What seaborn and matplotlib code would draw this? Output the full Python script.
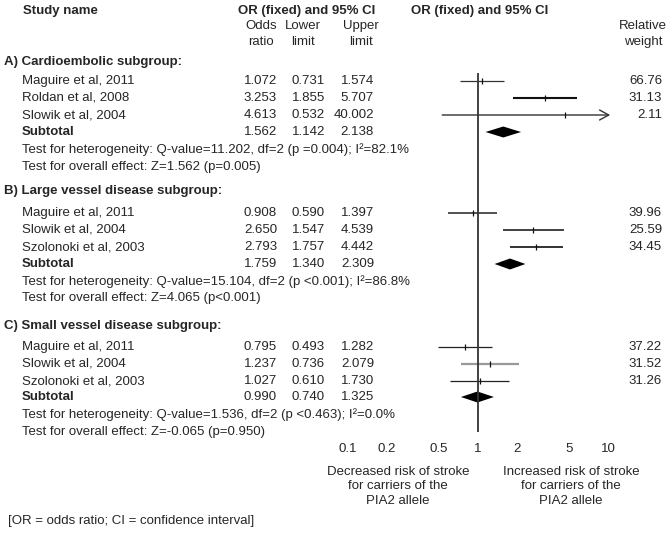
import numpy as np
import pandas as pd
import matplotlib
matplotlib.use("Agg")
import matplotlib.pyplot as plt
import seaborn as sns

# ---------------- data ----------------
group_titles = ["A) Cardioembolic subgroup:",
                "B) Large vessel disease subgroup:",
                "C) Small vessel disease subgroup:"]
studies_A = ["Maguire et al, 2011", "Roldan et al, 2008", "Slowik et al, 2004"]
or_A = [1.072, 3.253, 4.613]
lo_A = [0.731, 1.855, 0.532]
up_A = [1.574, 5.707, 40.002]
wt_A = [66.76, 31.13, 2.11]
sub_A = [1.562, 1.142, 2.138]

studies_B = ["Maguire et al, 2011", "Slowik et al, 2004", "Szolonoki et al, 2003"]
or_B = [0.908, 2.650, 2.793]
lo_B = [0.590, 1.547, 1.757]
up_B = [1.397, 4.539, 4.442]
wt_B = [39.96, 25.59, 34.45]
sub_B = [1.759, 1.340, 2.309]

studies_C = ["Maguire et al, 2011", "Slowik et al, 2004", "Szolonoki et al, 2003"]
or_C = [0.795, 1.237, 1.027]
lo_C = [0.493, 0.736, 0.610]
up_C = [1.282, 2.079, 1.730]
wt_C = [37.22, 31.52, 31.26]
sub_C = [0.990, 0.740, 1.325]

het_texts = ["Test for heterogeneity: Q-value=11.202, df=2 (p =0.004); I\u00b2=82.1%",
             "Test for heterogeneity: Q-value=15.104, df=2 (p <0.001); I\u00b2=86.8%",
             "Test for heterogeneity: Q-value=1.536, df=2 (p <0.463); I\u00b2=0.0%"]
overall_texts = ["Test for overall effect: Z=1.562 (p=0.005)",
                 "Test for overall effect: Z=4.065 (p<0.001)",
                 "Test for overall effect: Z=-0.065 (p=0.950)"]
tick_values = [0.1, 0.2, 0.5, 1, 2, 5, 10]
tick_labels = ["0.1", "0.2", "0.5", "1", "2", "5", "10"]
left_note = "Decreased risk of stroke\nfor carriers of the\nPIA2 allele"
right_note = "Increased risk of stroke\nfor carriers of the\nPIA2 allele"
footnote = "[OR = odds ratio; CI = confidence interval]"

# ---------------- layout (pixels) ----------------
W, H = 671, 536
group_header_y = [62, 191, 326]
group_study_y = [[81, 98, 115], [213, 230, 247], [347, 364, 381]]
group_sub_y = [132, 264, 397]
group_het_y = [150, 282, 415]
group_over_y = [167, 298, 432]
line_styles = [[("#333333", 0.9), ("#111111", 1.5), ("#333333", 1.0)],
               [("#222222", 1.1), ("#333333", 1.3), ("#222222", 1.3)],
               [("#222222", 0.9), ("#999999", 1.6), ("#222222", 0.9)]]
xclip = 10.0

sns.set_theme(style="white")
plt.rcParams["font.family"] = ["Liberation Sans", "DejaVu Sans"]
FS = 9.5

fig = plt.figure(figsize=(W / 100, H / 100), dpi=100)
fig.patch.set_facecolor("white")

# text axes in pixel coordinates
tax = fig.add_axes([0, 0, 1, 1])
tax.set_xlim(0, W)
tax.set_ylim(H, 0)
tax.axis("off")

# forest axes: log x, 1 at px 478, 130.5 px per decade
px_one, px_dec = 478.0, 130.5
lg_lo, lg_hi = -1.301, 1.301
ax_l = (px_one + lg_lo * px_dec) / W
ax_w = (lg_hi - lg_lo) * px_dec / W
ax = fig.add_axes([ax_l, 0, ax_w, 1])
ax.patch.set_alpha(0)

# header
tax.text(23, 11, "Study name", fontsize=FS, fontweight="bold", va="center", ha="left")
tax.text(307, 11, "OR (fixed) and 95% CI", fontsize=FS, fontweight="bold", va="center", ha="center")
tax.text(480, 11, "OR (fixed) and 95% CI", fontsize=FS, fontweight="bold", va="center", ha="center")
for cx, (a, b) in zip([261, 303, 361, 643],
                      [("Odds", "ratio"), ("Lower", "limit"), ("Upper", "limit"), ("Relative", "weight")]):
    tax.text(cx, 26, a, fontsize=FS, va="center", ha="center")
    tax.text(cx, 42, b, fontsize=FS, va="center", ha="center")

groups = [(studies_A, or_A, lo_A, up_A, wt_A, sub_A),
          (studies_B, or_B, lo_B, up_B, wt_B, sub_B),
          (studies_C, or_C, lo_C, up_C, wt_C, sub_C)]

rows = []
for gi, (names, ors, los, ups, wts, sub) in enumerate(groups):
    tax.text(4, group_header_y[gi], group_titles[gi], fontsize=FS, fontweight="bold", va="center")
    for si, name in enumerate(names):
        y = group_study_y[gi][si]
        tax.text(22, y, name, fontsize=FS, va="center")
        tax.text(277, y, f"{ors[si]:.3f}", fontsize=FS, va="center", ha="right")
        tax.text(325, y, f"{los[si]:.3f}", fontsize=FS, va="center", ha="right")
        tax.text(374, y, f"{ups[si]:.3f}", fontsize=FS, va="center", ha="right")
        tax.text(662, y, f"{wts[si]:.2f}", fontsize=FS, va="center", ha="right")
        col, lw = line_styles[gi][si]
        rows.append({"OR": ors[si], "lo": los[si], "up": ups[si], "y": y, "col": col, "lw": lw})
    ys = group_sub_y[gi]
    tax.text(22, ys, "Subtotal", fontsize=FS, fontweight="bold", va="center")
    tax.text(277, ys, f"{sub[0]:.3f}", fontsize=FS, va="center", ha="right")
    tax.text(325, ys, f"{sub[1]:.3f}", fontsize=FS, va="center", ha="right")
    tax.text(374, ys, f"{sub[2]:.3f}", fontsize=FS, va="center", ha="right")
    hh = 5.5
    ax.fill([sub[1], sub[0], sub[2], sub[0]], [ys, ys - hh, ys, ys + hh],
            color="black", lw=0)
    tax.text(22, group_het_y[gi], het_texts[gi], fontsize=FS, va="center")
    tax.text(22, group_over_y[gi], overall_texts[gi], fontsize=FS, va="center")

df = pd.DataFrame(rows)
sns.scatterplot(data=df, x="OR", y="y", marker="|", s=22, color="#111111",
                linewidth=0.9, ax=ax, legend=False, zorder=4)
ax.set_xscale("log")
ax.set_xlim(10 ** lg_lo, 10 ** lg_hi)
ax.set_ylim(H, 0)
ax.axis("off")

for _, r in df.iterrows():
    if r["up"] > xclip:
        ax.annotate("", xy=(xclip * 1.03, r["y"]), xytext=(r["lo"], r["y"]),
                    arrowprops=dict(arrowstyle="->,head_length=0.55,head_width=0.3",
                                    lw=r["lw"], color=r["col"], shrinkA=0, shrinkB=0))
    else:
        ax.hlines(r["y"], r["lo"], r["up"], color=r["col"], lw=r["lw"])

# reference line at 1
ax.vlines(1, 73, 432, color="#333333", lw=1.3, zorder=3)

# x tick labels
for v, lab in zip(tick_values, tick_labels):
    ax.text(v, 449, lab, fontsize=FS, va="center", ha="center")

tax.text(398, 466, left_note, fontsize=FS, va="top", ha="center", linespacing=1.25)
tax.text(571, 466, right_note, fontsize=FS, va="top", ha="center", linespacing=1.25)
tax.text(8, 521, footnote, fontsize=FS, va="center", ha="left")

fig.savefig("out.png", dpi=100, facecolor="white")
